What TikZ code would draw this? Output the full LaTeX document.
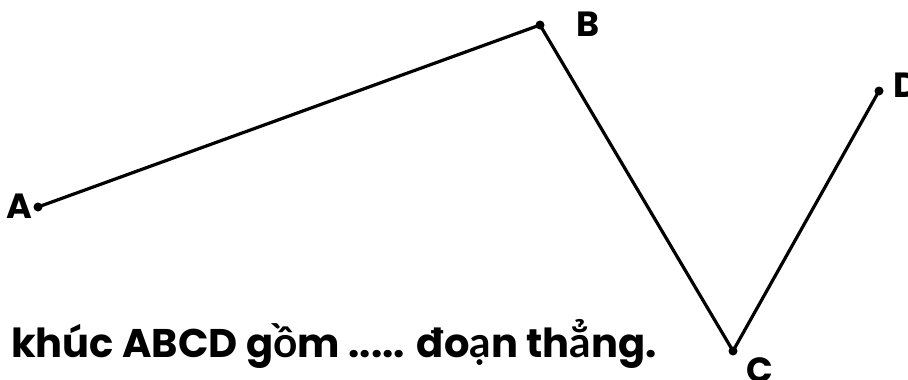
\documentclass[tikz,border=0pt]{standalone}
\usepackage{fontspec}
\setmainfont{Poppins}
\newfontfamily\vnf{Lato}[Scale=1.06]
\begin{document}
\begin{tikzpicture}[x=1pt,y=-1pt,
  seg/.style={line width=3.2pt, line join=round, line cap=round},
  pt/.style={circle, fill=black, inner sep=0pt, minimum size=9pt},
  lbl/.style={anchor=base west, inner sep=0pt, font=\fontsize{35}{40}\selectfont\bfseries},
  sentence/.style={anchor=base west, inner sep=0pt, font=\fontsize{40}{46}\selectfont\bfseries}]
\useasboundingbox (0,0) rectangle (908,380);
\node[pt] (A) at (38,207) {};
\node[pt] (B) at (540,25) {};
\node[pt] (C) at (733,351) {};
\node[pt] (D) at (879,91) {};
\draw[seg] (A.center) -- (B.center) -- (C.center) -- (D.center);
\node[lbl] (la) at (6,218) {A};
\node[lbl] (lb) at (576,36) {B};
\node[lbl] (lc) at (746,382) {C};
\node[lbl] (ld) at (893,97) {D};
\node[sentence] (txt) at (11,357) {khúc ABCD g{\vnf ồ}m ..... đo{\vnf ạ}n th{\vnf ẳ}ng.};
\end{tikzpicture}
\end{document}
